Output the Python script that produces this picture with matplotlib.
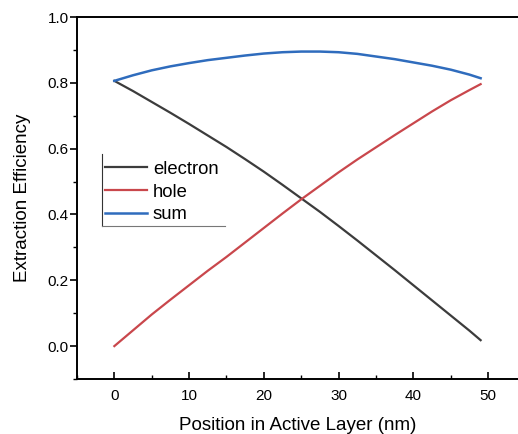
import matplotlib
matplotlib.use("Agg")
import matplotlib.pyplot as plt
from matplotlib.lines import Line2D
from matplotlib.ticker import MultipleLocator, FormatStrFormatter

plt.rcParams['font.family'] = ['Liberation Sans', 'DejaVu Sans']

# values
position = [0, 2.5, 5, 7.5, 10, 12.5, 15, 17.5, 20, 22.5, 25,
            27.5, 30, 32.5, 35, 37.5, 40, 42.5, 45, 47.5, 49]
electron = [0.806, 0.775, 0.742, 0.709, 0.675, 0.640, 0.605, 0.568, 0.530, 0.490, 0.449,
            0.408, 0.365, 0.321, 0.276, 0.231, 0.185, 0.139, 0.093, 0.047, 0.018]
hole = [0.0, 0.048, 0.096, 0.141, 0.185, 0.229, 0.271, 0.315, 0.359, 0.403, 0.446,
        0.487, 0.528, 0.567, 0.604, 0.641, 0.677, 0.713, 0.747, 0.778, 0.796]
total = [0.806, 0.823, 0.838, 0.850, 0.860, 0.869, 0.876, 0.883, 0.889, 0.893, 0.895,
         0.895, 0.893, 0.888, 0.880, 0.872, 0.862, 0.852, 0.840, 0.825, 0.814]

fig = plt.figure(figsize=(5.18, 4.34), dpi=100)
ax = fig.add_axes([0.1486, 0.1267, 0.8514, 0.8341])

ax.plot(position, electron, color='#3c3c3c', lw=1.6, label='electron')
ax.plot(position, hole, color='#c9474c', lw=1.6, label='hole')
ax.plot(position, total, color='#2f6cbd', lw=1.8, label='sum')

ax.set_xlim(-5, 54)
ax.set_ylim(-0.1, 1.0)
ax.xaxis.set_major_locator(MultipleLocator(10))
ax.xaxis.set_minor_locator(MultipleLocator(5))
ax.yaxis.set_major_locator(MultipleLocator(0.2))
ax.yaxis.set_minor_locator(MultipleLocator(0.1))
ax.yaxis.set_major_formatter(FormatStrFormatter('%.1f'))

ax.spines['right'].set_visible(False)
for s in ['left', 'bottom', 'top']:
    ax.spines[s].set_linewidth(1.4)

ax.tick_params(axis='x', which='major', direction='in', length=5, width=1.2, pad=7, labelsize=11)
ax.tick_params(axis='x', which='minor', direction='in', length=3, width=1.0)
ax.tick_params(axis='y', which='major', direction='out', length=5, width=1.2, pad=1, labelsize=11)
ax.tick_params(axis='y', which='minor', direction='out', length=3, width=1.0)

ax.set_xlabel('Position in Active Layer (nm)', fontsize=13.5, labelpad=10)
ax.set_ylabel('Extraction Efficiency', fontsize=13.5, labelpad=12)

leg = ax.legend(loc='upper left', bbox_to_anchor=(0.0567, 0.61), fontsize=13.3,
                frameon=False, handlelength=2.3, handletextpad=0.3,
                labelspacing=0.3, borderpad=0.15, borderaxespad=0)

# legend frame in the original only shows its left and bottom edges
fig.canvas.draw()
bb = leg.get_window_extent().transformed(fig.transFigure.inverted())
fig.add_artist(Line2D([bb.x0, bb.x0], [bb.y0, bb.y1 + 0.01], transform=fig.transFigure,
                      color='#333333', lw=0.8))
fig.add_artist(Line2D([bb.x0, bb.x1 + 0.008], [bb.y0, bb.y0], transform=fig.transFigure,
                      color='#777777', lw=0.8))

fig.savefig('out.png', dpi=100)
